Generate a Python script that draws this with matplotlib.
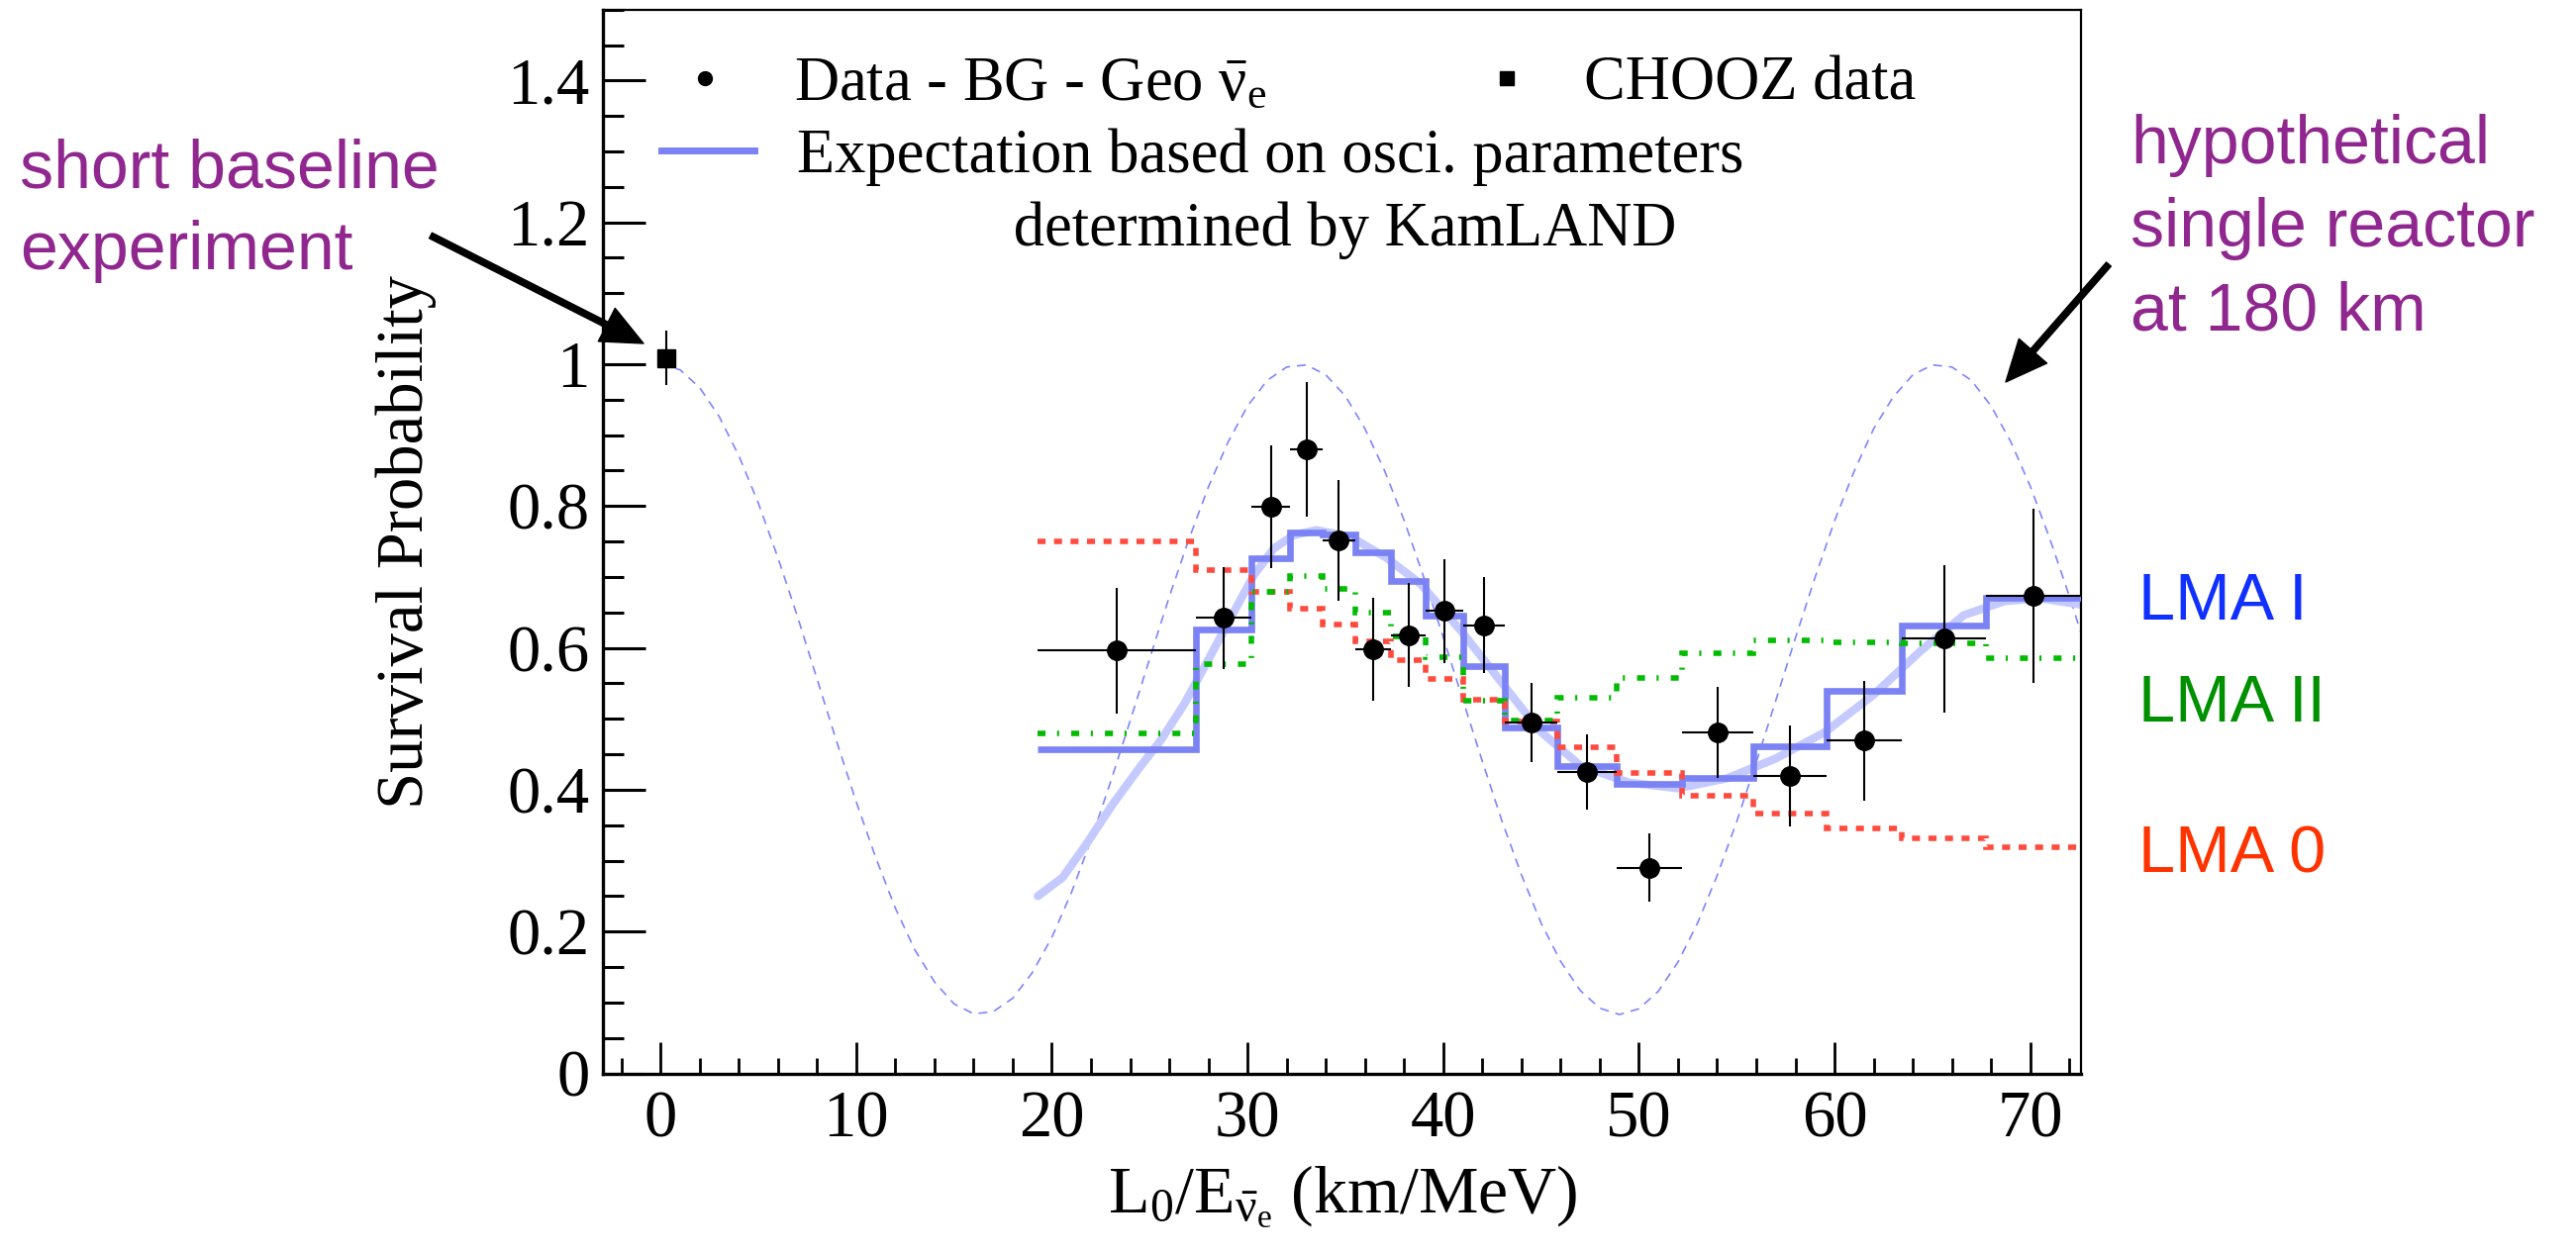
import numpy as np
import matplotlib
matplotlib.use("Agg")
import matplotlib.pyplot as plt
from matplotlib.lines import Line2D
from matplotlib.ticker import MultipleLocator, FuncFormatter

plt.rcParams['font.family'] = ['Liberation Serif', 'DejaVu Serif']
plt.rcParams['mathtext.fontset'] = 'custom'
plt.rcParams['mathtext.rm'] = 'Liberation Serif'
plt.rcParams['mathtext.it'] = 'Liberation Serif'
plt.rcParams['mathtext.bf'] = 'Liberation Serif:bold'

# bin edges in L0/E (km/MeV)
bin_edges = [19.28, 27.38, 30.19, 32.18, 33.83, 35.50, 37.34, 39.12, 41.00,
             43.17, 45.83, 48.85, 52.19, 55.84, 59.59, 63.44, 67.74, 72.60]

# KamLAND data - BG - geo
data_y = [0.596, 0.642, 0.799, 0.880, 0.752, 0.598, 0.618, 0.652, 0.632,
          0.495, 0.425, 0.290, 0.481, 0.419, 0.469, 0.613, 0.673]
data_err = [0.089, 0.072, 0.087, 0.095, 0.085, 0.073, 0.073, 0.073, 0.068,
            0.056, 0.053, 0.048, 0.064, 0.071, 0.084, 0.104, 0.123]

# model histograms
lma1 = [0.457, 0.626, 0.726, 0.763, 0.760, 0.735, 0.694, 0.646, 0.574,
        0.488, 0.433, 0.408, 0.416, 0.461, 0.540, 0.632, 0.671]
lma0 = [0.750, 0.709, 0.679, 0.655, 0.633, 0.609, 0.583, 0.556, 0.527,
        0.496, 0.460, 0.424, 0.391, 0.366, 0.346, 0.332, 0.319]
lma2 = [0.479, 0.577, 0.679, 0.701, 0.683, 0.649, 0.616, 0.587, 0.525,
        0.497, 0.529, 0.558, 0.593, 0.611, 0.608, 0.607, 0.585]

# smooth expectation (KamLAND parameters)
exp_x = [19.28, 20.54, 21.73, 23.07, 24.42, 25.60, 26.79, 27.97, 29.15, 30.33,
         31.34, 32.35, 33.53, 35.3, 37.1, 38.85, 41.0, 43.1, 44.9, 47.0,
         49.5, 52.0, 54.5, 57.0, 59.5, 62.0, 64.45, 66.6, 68.7, 70.5, 72.6]
exp_y = [0.250, 0.276, 0.322, 0.378, 0.429, 0.471, 0.522, 0.582, 0.643, 0.703,
         0.740, 0.759, 0.766, 0.756, 0.727, 0.690, 0.621, 0.547, 0.484, 0.434,
         0.410, 0.402, 0.416, 0.444, 0.481, 0.534, 0.597, 0.646, 0.666, 0.670, 0.661]

# hypothetical single reactor at 180 km
single_x = list(range(0, 74))
single_y = [1.000, 0.992, 0.967, 0.926, 0.871, 0.804, 0.727, 0.644, 0.556, 0.468,
            0.383, 0.304, 0.233, 0.174, 0.129, 0.098, 0.084, 0.087, 0.106, 0.142,
            0.192, 0.255, 0.329, 0.411, 0.497, 0.585, 0.672, 0.753, 0.827, 0.890,
            0.941, 0.977, 0.996, 0.999, 0.985, 0.955, 0.909, 0.850, 0.780, 0.700,
            0.615, 0.527, 0.440, 0.356, 0.280, 0.212, 0.158, 0.117, 0.092, 0.083,
            0.091, 0.116, 0.157, 0.212, 0.279, 0.355, 0.439, 0.526, 0.614, 0.699,
            0.779, 0.849, 0.909, 0.954, 0.985, 0.999, 0.996, 0.977, 0.941, 0.891,
            0.828, 0.754, 0.673, 0.586]

# CHOOZ
chooz_x = [0.27]
chooz_y = [1.009]
chooz_err = [0.038]

edges = np.array(bin_edges)
centers = 0.5 * (edges[1:] + edges[:-1])
halfw = 0.5 * (edges[1:] - edges[:-1])

W, H = 2602, 1268
fig = plt.figure(figsize=(W / 100, H / 100), dpi=100)
ax = fig.add_axes([609.3 / W, 1 - 1084.5 / H, 1493.0 / W, 1074.8 / H])

ax.plot(single_x, single_y, color='#7f86ff', lw=1.2, ls=(0, (5.4, 4.2)), zorder=1)
ax.plot(exp_x, exp_y, color='#c4caff', lw=6, solid_capstyle='round',
        solid_joinstyle='round', zorder=2)
ax.stairs(lma1, edges, baseline=None, color='#7b83f4', lw=4.8, zorder=3)
ax.stairs(lma0, edges, baseline=None, color='#ff4b3e', lw=4.0,
          ls=(0, (1.45, 1.55)), zorder=4)
ax.stairs(lma2, edges, baseline=None, color='#00bb00', lw=4.0,
          ls=(0, (1.45, 2.1, 0.38, 2.2)), zorder=4)
ax.errorbar(centers, data_y, xerr=halfw, yerr=data_err, fmt='o', color='k',
            ms=14, elinewidth=1.5, capsize=0, zorder=6)
ax.errorbar(chooz_x, chooz_y, yerr=chooz_err, fmt='s', color='k', ms=13.5,
            elinewidth=1.5, capsize=0, zorder=6)

ax.set_xlim(-2.93, 72.61)
ax.set_ylim(0, 1.5)
ax.xaxis.set_major_locator(MultipleLocator(10))
ax.xaxis.set_minor_locator(MultipleLocator(2))
ax.yaxis.set_major_locator(MultipleLocator(0.2))
ax.yaxis.set_minor_locator(MultipleLocator(0.05))
ax.yaxis.set_major_formatter(FuncFormatter(lambda v, p: f'{v:g}'))
ax.tick_params(axis='both', which='both', direction='in', top=False, right=False,
               labelsize=48)
ax.tick_params(axis='y', which='major', length=31, width=2.2, pad=10)
ax.tick_params(axis='y', which='minor', length=15, width=2.2)
ax.tick_params(axis='x', which='major', length=23, width=2.0, pad=12)
ax.tick_params(axis='x', which='minor', length=11.5, width=2.0)
for s in ['left', 'bottom']:
    ax.spines[s].set_linewidth(2.4)
for s in ['top', 'right']:
    ax.spines[s].set_linewidth(1.6)

ax.set_ylabel('Survival Probability', fontsize=48, va='center')
ax.yaxis.set_label_coords(-0.133, 0.5)
ax.set_xlabel(r'L$_0$/E$_{\bar{\nu}_e}$ (km/MeV)', fontsize=49, va='baseline')
ax.xaxis.set_label_coords(0.5, -0.131)

# legends
h_data = Line2D([], [], marker='o', ls='none', color='k', ms=10)
h_chooz = Line2D([], [], marker='s', ls='none', color='k', ms=9.5)
h_exp = Line2D([], [], color='#7b83f4', lw=5)
h_none = Line2D([], [], ls='none')
leg_kw = dict(loc='upper left', fontsize=45, frameon=False, borderpad=0,
              borderaxespad=0, handlelength=1.5)
leg1 = ax.legend([h_data], [r'Data - BG - Geo $\bar{\nu}_e$'],
                 bbox_to_anchor=(0.0373, 0.956), handletextpad=0.7, **leg_kw)
ax.add_artist(leg1)
leg2 = ax.legend([h_chooz], ['CHOOZ data'], bbox_to_anchor=(0.580, 0.956),
                 handletextpad=0.5, **leg_kw)
ax.add_artist(leg2)
ax.legend([h_exp, h_none],
          ['Expectation based on osci. parameters',
           '              determined by KamLAND'],
          bbox_to_anchor=(0.0393, 0.889), labelspacing=0.25, handletextpad=0.7,
          **leg_kw)

purple = '#90278f'
sans = ['Liberation Sans', 'DejaVu Sans']
fig.text(20 / W, 1 - 213 / H, 'short baseline\nexperiment', color=purple,
         fontsize=49, family=sans, ha='left', va='center', linespacing=1.38)
fig.text(2152 / W, 1 - 231 / H, 'hypothetical\nsingle reactor\nat 180 km',
         color=purple, fontsize=49, family=sans, ha='left', va='center',
         linespacing=1.4)
fig.text(2160 / W, 1 - 609 / H, 'LMA I', color='#1030ff', fontsize=48,
         family=sans, ha='left', va='center')
fig.text(2160 / W, 1 - 712 / H, 'LMA II', color='#009000', fontsize=48,
         family=sans, ha='left', va='center')
fig.text(2160 / W, 1 - 864 / H, 'LMA 0', color='#ff3300', fontsize=48,
         family=sans, ha='left', va='center')

arrow = dict(width=4.5, headwidth=27, headlength=30, shrink=0.0,
             facecolor='k', edgecolor='k')
ax.annotate('', xy=(650 / W, 1 - 347 / H), xytext=(435 / W, 1 - 238 / H),
            xycoords='figure fraction', textcoords='figure fraction',
            arrowprops=arrow, annotation_clip=False)
ax.annotate('', xy=(2026 / W, 1 - 386 / H), xytext=(2130 / W, 1 - 267 / H),
            xycoords='figure fraction', textcoords='figure fraction',
            arrowprops=arrow, annotation_clip=False)

fig.savefig('out.png', dpi=100)
